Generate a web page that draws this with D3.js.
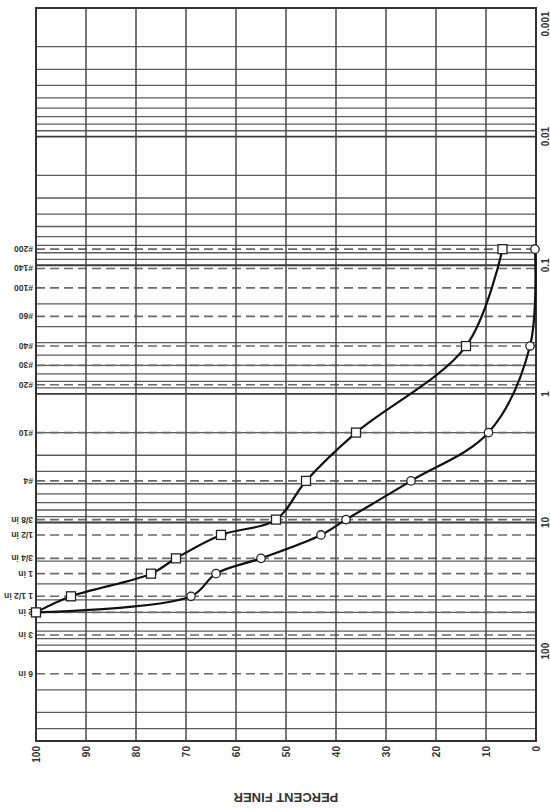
<!DOCTYPE html>
<html>
<head>
<meta charset="utf-8">
<script src="https://cdn.jsdelivr.net/npm/d3@7"></script>
<style>
  body { margin: 0; background: #fff; }
  svg { display: block; font-family: "Liberation Sans", Arial, sans-serif; }
</style>
</head>
<body>
<div id="container"></div>
<script>
var W = 550, H = 810,
    frame = {left: 36, right: 536, top: 8, bottom: 741};

// sieve openings (mm) and their labels
var sieveSizes = [0.075, 0.106, 0.15, 0.25, 0.425, 0.6, 0.85, 2.0, 4.75, 9.5, 12.5, 19, 25, 37.5, 50, 75, 150];
var sieveLabels = ['#200', '#140', '#100', '#60', '#40', '#30', '#20', '#10', '#4', '3/8 in', '1/2 in', '3/4 in', '1 in', '1 1/2 in', '2 in', '3 in', '6 in'];

// grain size axis labels
var sizeTicks = [0.001, 0.01, 0.1, 1, 10, 100];
var sizeTickLabels = ['0.001', '0.01', '0.1', '1', '10', '100'];

// percent finer ticks
var pctTicks = [100, 90, 80, 70, 60, 50, 40, 30, 20, 10, 0];

// sample data: sizes tested and percent finer
var testSizes = [0.075, 0.425, 2.0, 4.75, 9.5, 12.5, 19, 25, 37.5, 50];
var squarePct = [6.7, 14, 36, 46, 52, 63, 72, 77, 93, 100];
var circlePct = [0.2, 1.2, 9.5, 25, 38, 43, 55, 64, 69, 100];

var svg = d3.select('#container').append('svg')
    .attr('width', W)
    .attr('height', H);

var x = d3.scaleLinear().domain([100, 0]).range([frame.left, frame.right]);
var y = d3.scaleLog().domain([0.001, 500]).range([frame.top, frame.bottom]);

/* log grid lines: 1..9 in every decade */
var minor = [];
[0.001, 0.01, 0.1, 1, 10, 100].forEach(function(dec) {
    for (var k = 1; k <= 9; k++) {
        var v = dec * k;
        if (v <= 500) minor.push(v);
    }
});

svg.append('g').selectAll('line').data(minor).enter().append('line')
    .attr('x1', frame.left).attr('x2', frame.right)
    .attr('y1', d => y(d)).attr('y2', d => y(d))
    .style('stroke', d => sizeTicks.indexOf(d) >= 0 ? '#3a3a3a' : '#5c5c5c')
    .style('stroke-width', d => sizeTicks.indexOf(d) >= 0 ? 1.8 : 1.3);

// dashed sieve lines
svg.append('g').selectAll('line').data(sieveSizes).enter().append('line')
    .attr('x1', frame.left).attr('x2', frame.right)
    .attr('y1', d => y(d)).attr('y2', d => y(d))
    .style('stroke', '#6a6a6a')
    .style('stroke-width', 1.6)
    .style('stroke-dasharray', '9,5');

// vertical lines every 10 %
svg.append('g').selectAll('line').data(pctTicks).enter().append('line')
    .attr('x1', d => x(d)).attr('x2', d => x(d))
    .attr('y1', frame.top).attr('y2', frame.bottom)
    .style('stroke', '#4a4a4a')
    .style('stroke-width', 1.5);

// frame
svg.append('rect')
    .attr('x', frame.left).attr('y', frame.top)
    .attr('width', frame.right - frame.left)
    .attr('height', frame.bottom - frame.top)
    .style('fill', 'none')
    .style('stroke', '#333')
    .style('stroke-width', 2);

// sieve labels (upside down, left of frame)
svg.append('g').selectAll('text').data(sieveSizes).enter().append('text')
    .attr('transform', d => 'translate(33,' + y(d) + ') rotate(180)')
    .attr('text-anchor', 'start')
    .attr('dominant-baseline', 'central')
    .style('font-size', '8.5px')
    .style('font-weight', 'bold')
    .style('fill', '#333')
    .text((d, i) => sieveLabels[i]);

// grain size labels (right side, reading upward)
svg.append('g').selectAll('text').data(sizeTicks).enter().append('text')
    .attr('transform', d => 'translate(545,' + Math.max(y(d), 24) + ') rotate(-90)')
    .attr('text-anchor', 'middle')
    .attr('dominant-baseline', 'central')
    .style('font-size', '10px')
    .style('font-weight', 'bold')
    .style('fill', '#333')
    .text((d, i) => sizeTickLabels[i]);

// percent labels (bottom, reading upward)
svg.append('g').selectAll('text').data(pctTicks).enter().append('text')
    .attr('transform', d => 'translate(' + x(d) + ',746) rotate(-90)')
    .attr('text-anchor', 'end')
    .attr('dominant-baseline', 'central')
    .style('font-size', '10px')
    .style('font-weight', 'bold')
    .style('fill', '#333')
    .text(d => d);

svg.append('text')
    .attr('transform', 'translate(286,797) rotate(180)')
    .attr('text-anchor', 'middle')
    .attr('dominant-baseline', 'central')
    .style('font-size', '13px')
    .style('font-weight', 'bold')
    .style('fill', '#333')
    .text('PERCENT FINER');

/* curves */
var line = d3.line()
    .x(d => x(d.p))
    .y(d => y(d.s))
    .curve(d3.curveCatmullRom.alpha(0.5));

var squares = testSizes.map((s, i) => ({s: s, p: squarePct[i]}));
var circles = testSizes.map((s, i) => ({s: s, p: circlePct[i]}));

[squares, circles].forEach(function(ser) {
    svg.append('path').datum(ser)
        .attr('d', line)
        .style('fill', 'none')
        .style('stroke', '#111')
        .style('stroke-width', 2.2);
});

svg.append('g').selectAll('circle').data(circles).enter().append('circle')
    .attr('cx', d => x(d.p))
    .attr('cy', d => y(d.s))
    .attr('r', 4.2)
    .style('fill', 'white')
    .style('stroke', '#222')
    .style('stroke-width', 1.3);

svg.append('g').selectAll('rect.sq').data(squares).enter().append('rect')
    .attr('class', 'sq')
    .attr('x', d => x(d.p) - 4.5)
    .attr('y', d => y(d.s) - 4.5)
    .attr('width', 9)
    .attr('height', 9)
    .style('fill', 'white')
    .style('stroke', '#222')
    .style('stroke-width', 1.3);
</script>
</body>
</html>
